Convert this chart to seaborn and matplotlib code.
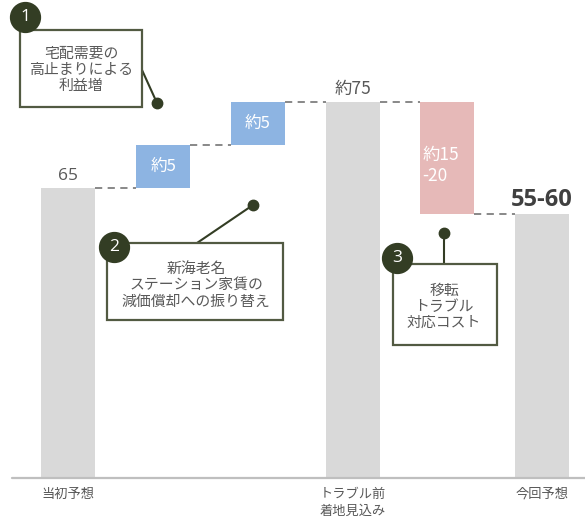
import numpy as np
import pandas as pd
import matplotlib
matplotlib.use("Agg")
import matplotlib.pyplot as plt
from matplotlib.lines import Line2D
import matplotlib.patches as mpatches
import seaborn as sns

# ---------------- data ----------------
categories = ["当初予想", "増益1", "増益2", "トラブル前着地見込み", "トラブル対応", "今回予想"]
tick_labels = ["当初予想", "", "", "トラブル前\n着地見込み", "", "今回予想"]
kinds = ["total", "gain", "gain", "total", "loss", "total"]
initial_value = 65
gains = [5, 5]
pre_trouble_value = 75
loss_value = 13          # drawn size of the "約15-20" step
final_value = 62         # drawn height of the "55-60" bar
value_labels = ["65", "約5", "約5", "約75", "約15\n-20", "55-60"]

# ---------------- build waterfall table ----------------
bottoms, heights = [], []
level = initial_value
bottoms.append(0); heights.append(initial_value)
for g in gains:
    bottoms.append(level); heights.append(g); level += g
bottoms.append(0); heights.append(pre_trouble_value)
bottoms.append(pre_trouble_value - loss_value); heights.append(loss_value)
bottoms.append(0); heights.append(final_value)
df = pd.DataFrame({"cat": categories, "bottom": bottoms, "height": heights, "kind": kinds})
df["top"] = df["bottom"] + df["height"]

# ---------------- style ----------------
sns.set_theme(style="white")
plt.rcParams["font.family"] = ["Noto Sans CJK JP", "DejaVu Sans"]

W, H = 585, 530
fig = plt.figure(figsize=(W / 100, H / 100), dpi=100)
ax = fig.add_axes([0, 52 / H, 1, 478 / H])

colors = {"total": "#d9d9d9", "gain": "#8db4e2", "loss": "#e6b9b8"}
bar_w = 0.57
for k, col in colors.items():
    sub = df[df["kind"] == k]
    sns.barplot(data=sub, x="cat", y="height", order=categories, color=col,
                saturation=1, errorbar=None, width=bar_w, ax=ax,
                bottom=sub["bottom"].values, linewidth=0)

ax.set_xlim(-0.723, 5.454)
ax.set_ylim(31.28, 86.86)
for s in ax.spines.values():
    s.set_visible(False)
ax.set_yticks([])
ax.set_xlabel("")
ax.set_ylabel("")
ax.set_xticks(range(len(categories)))
ax.set_xticklabels(tick_labels, fontsize=9.5, color="#595959", linespacing=1.45)
ax.tick_params(axis="x", length=0, pad=7)
ax.axhline(31.28, xmin=12 / W, xmax=1, color="#bfbfbf", lw=1.6, clip_on=False)

# dashed connectors
levels = [df["top"][0], df["top"][1], df["top"][2], df["top"][3], df["bottom"][4]]
for i, lv in enumerate(levels):
    ax.plot([i + bar_w / 2, i + 1 - bar_w / 2], [lv, lv], color="#7f7f7f",
            lw=1.3, ls=(0, (4, 3)), zorder=1)

# value labels
gray = "#595959"
ax.text(0, df["top"][0] + 0.95, value_labels[0], ha="center", va="baseline",
        fontsize=12.5, color=gray, family="Open Sans")
ax.text(3, df["top"][3] + 0.95, value_labels[3], ha="center", va="baseline",
        fontsize=12.5, color=gray)
ax.text(5, df["top"][5] + 0.95, value_labels[5], ha="center", va="baseline",
        fontsize=17, color="#404040", fontweight="bold", family="Open Sans")
for i in (1, 2):
    ax.text(i, df["bottom"][i] + df["height"][i] / 2, value_labels[i], ha="center",
            va="center", fontsize=12, color="white")
ax.text(4 - bar_w / 2 + 0.02, df["bottom"][4] + df["height"][4] / 2 - 0.9, value_labels[4],
        ha="left", va="center", fontsize=12.5, color="white", linespacing=1.2)

# ---------------- annotations (figure pixel layout) ----------------
def fx(x):
    return x / W

def fy(y):
    return 1 - y / H

dark = "#333d24"
edge = "#525a42"

def callout(num, box, text_lines, text_center, line_from, dot, circ):
    x0, y0, x1, y1 = box
    fig.add_artist(Line2D([fx(line_from[0]), fx(dot[0])], [fy(line_from[1]), fy(dot[1])],
                          color=dark, lw=1.5, transform=fig.transFigure, zorder=3))
    fig.add_artist(Line2D([fx(dot[0])], [fy(dot[1])], marker="o", markersize=7.5,
                          color=dark, transform=fig.transFigure, zorder=4))
    fig.add_artist(mpatches.Rectangle((fx(x0), fy(y1)), fx(x1) - fx(x0), fy(y0) - fy(y1),
                                      transform=fig.transFigure, facecolor="white",
                                      edgecolor=edge, lw=1.6, zorder=5))
    fig.text(fx(text_center[0]), fy(text_center[1]), text_lines, ha="center", va="center",
             fontsize=10.7, color=gray, linespacing=1.2, zorder=6)
    fig.add_artist(Line2D([fx(circ[0])], [fy(circ[1])], marker="o", markersize=21.5,
                          color=dark, transform=fig.transFigure, zorder=7))
    fig.text(fx(circ[0]), fy(circ[1]), str(num), ha="center", va="center",
             fontsize=12.5, color="white", zorder=8, family="Open Sans")

callout(1, (20, 30, 142, 107), "宅配需要の\n高止まりによる\n利益増", (81, 70),
        (142, 70), (157, 103), (25, 17))
callout(2, (107, 243, 283, 320), "新海老名\nステーション家賃の\n減価償却への振り替え", (196, 286),
        (197, 243), (253, 205), (114, 247))
callout(3, (393, 264, 497, 345), "移転\nトラブル\n対応コスト", (444, 307),
        (444, 264), (444, 233), (397, 258))

fig.savefig("out.png", dpi=100)
